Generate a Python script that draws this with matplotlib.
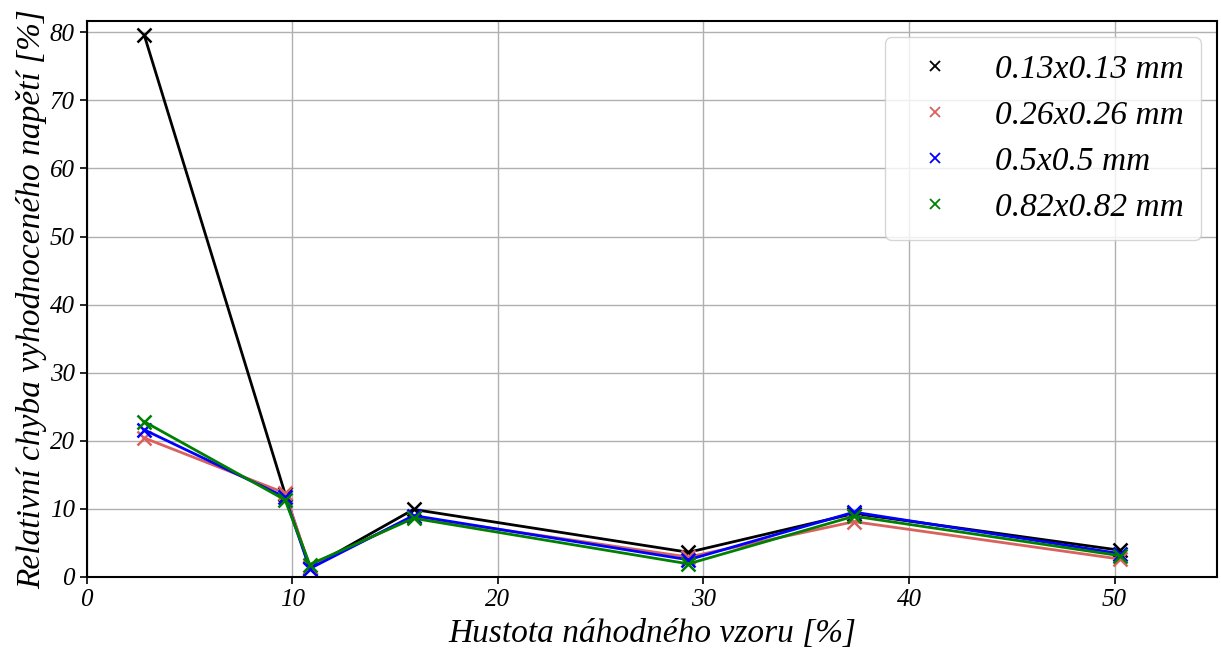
import matplotlib
matplotlib.use("Agg")
import matplotlib.pyplot as plt
from matplotlib.lines import Line2D

# hustota nahodneho vzoru [%]
density = [2.8, 9.65, 10.85, 15.9, 29.27, 37.33, 50.27]

labels = ["0.13x0.13 mm", "0.26x0.26 mm", "0.5x0.5 mm", "0.82x0.82 mm"]
colors = ["black", "#d9625e", "blue", "green"]

err_013 = [79.6, 12.2, 1.3, 9.9, 3.6, 9.3, 3.9]
err_026 = [20.4, 12.3, 1.5, 8.8, 2.9, 8.1, 2.6]
err_05 = [21.6, 11.7, 1.2, 9.0, 2.5, 9.5, 3.4]
err_082 = [22.8, 11.3, 1.8, 8.6, 1.9, 8.9, 3.1]
series = [err_013, err_026, err_05, err_082]

plt.rcParams["font.family"] = ["Liberation Serif", "DejaVu Serif"]
plt.rcParams["font.style"] = "italic"

fig, ax = plt.subplots(figsize=(12.21, 6.51), dpi=100)
fig.subplots_adjust(left=0.071, right=0.997, top=0.968, bottom=0.114)

handles = []
for vals, col, lab in zip(series, colors, labels):
    ax.plot(density, vals, color=col, linewidth=2, marker="x",
            markersize=10, markeredgewidth=1.8)
    handles.append(Line2D([], [], color=col, linestyle="none", marker="x",
                          markersize=7.5, markeredgewidth=1.3, label=lab))

ax.set_xlim(0, 55)
ax.set_ylim(0, 81.7)
ax.set_xticks([0, 10, 20, 30, 40, 50])
ax.set_yticks(range(0, 81, 10))
ax.tick_params(labelsize=18, width=1.2, length=5)
ax.grid(True, color="#b0b0b0", linewidth=1)
ax.set_axisbelow(True)
for sp in ax.spines.values():
    sp.set_linewidth(1.5)

ax.set_xlabel("Hustota náhodného vzoru [%]", fontsize=24, labelpad=6)
ax.set_ylabel("Relativní chyba vyhodnoceného napětí [%]", fontsize=24, labelpad=2)

ax.legend(handles=handles, loc="upper right", fontsize=24,
          labelspacing=0.47, borderpad=0.5)

fig.savefig("out.png", dpi=100)
